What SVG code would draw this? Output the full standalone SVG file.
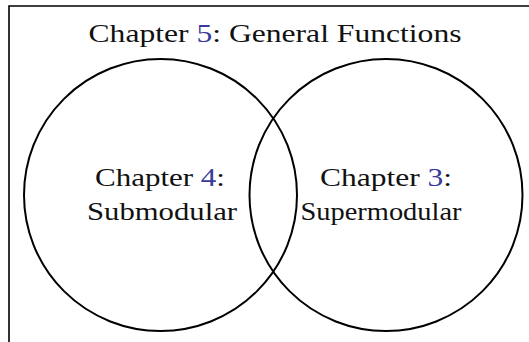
<svg xmlns="http://www.w3.org/2000/svg" width="529" height="342" viewBox="0 0 529 342">
<style>
text{font-family:"Liberation Serif","DejaVu Serif",serif;font-size:26px;fill:#111;text-anchor:middle}
.n{fill:#3a3a9c}
.c{fill:none;stroke:#000;stroke-width:2}
.f{fill:none;stroke:#000;stroke-width:1.6}
</style>
<rect width="529" height="342" fill="#fff"/>
<g id="frame"><path class="f" d="M9 342 V6 H529"/></g>
<g id="general">
<text x="275" y="42" textLength="373" lengthAdjust="spacingAndGlyphs">Chapter <tspan class="n">5</tspan>: General Functions</text>
</g>
<g id="submodular">
<ellipse class="c" cx="160.5" cy="195" rx="136.5" ry="136"/>
<text x="160" y="186" textLength="130" lengthAdjust="spacingAndGlyphs">Chapter <tspan class="n">4</tspan>:</text>
<text x="162" y="220" textLength="150" lengthAdjust="spacingAndGlyphs">Submodular</text>
</g>
<g id="supermodular">
<ellipse class="c" cx="386" cy="195" rx="136.5" ry="136"/>
<text x="386" y="186" textLength="132" lengthAdjust="spacingAndGlyphs">Chapter <tspan class="n">3</tspan>:</text>
<text x="381" y="220" textLength="161" lengthAdjust="spacingAndGlyphs">Supermodular</text>
</g>
<g id="connectors"></g>
</svg>
